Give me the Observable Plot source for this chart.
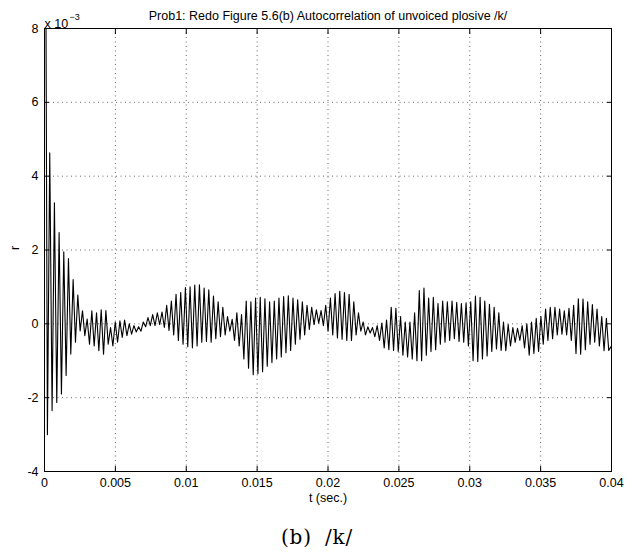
<!DOCTYPE html>
<html><head><meta charset="utf-8">
<script src="https://cdn.jsdelivr.net/npm/d3@7"></script>
<script src="https://cdn.jsdelivr.net/npm/@observablehq/plot@0.6"></script>
<style>
body{margin:0;background:#fff;}
svg{display:block;}
#cap{font-family:"DejaVu Serif","Liberation Serif",serif;font-size:20px;line-height:24px;text-align:center;width:634px;margin-top:5px;word-spacing:6px;letter-spacing:0.8px;}
</style></head><body><div id="chart"></div><div id="cap">(b) /k/</div>
<script>
const titleText = "Prob1: Redo Figure 5.6(b) Autocorrelation of unvoiced plosive /k/";
const xLabel = "t (sec.)";
const yLabel = "r";
const xTicks = [0, 0.005, 0.01, 0.015, 0.02, 0.025, 0.03, 0.035, 0.04];
const xTickLabels = ["0", "0.005", "0.01", "0.015", "0.02", "0.025", "0.03", "0.035", "0.04"];
const yTicks = [-4, -2, 0, 2, 4, 6, 8];
const yTickLabels = ["-4", "-2", "0", "2", "4", "6", "8"];

// autocorrelation (units of 1e-3); r(0) lies above the axis limit
const r0 = 20;
const firstTrough = 0.000205;   // s
const firstPeak = 0.00037;      // s
const cycle = 0.00033;          // s, oscillation period
const tEnd = 0.04;
const rEnd = -0.6;
const troughs = [
  -3.0, -2.35, -2.13, -1.9, -1.4, -0.82, -0.5, -0.19, -0.32, -0.55,
  -0.6, -0.73, -0.82, -0.55, -0.6, -0.5, -0.37, -0.32, -0.28, -0.22,
  -0.2, -0.08, -0.05, -0.05, -0.02, -0.1, -0.18, -0.3, -0.45, -0.55,
  -0.62, -0.65, -0.6, -0.5, -0.48, -0.5, -0.4, -0.35, -0.3, -0.2,
  -0.45, -0.6, -0.95, -1.2, -1.38, -1.35, -1.3, -1.15, -1.05, -0.95,
  -0.9, -0.78, -0.72, -0.55, -0.42, -0.3, -0.15, -0.02, 0.02, -0.05,
  -0.2, -0.3, -0.38, -0.42, -0.45, -0.45, -0.3, -0.2, -0.3, -0.25,
  -0.35, -0.45, -0.65, -0.7, -0.72, -0.75, -0.85, -0.9, -0.95, -1.0,
  -1.0, -0.85, -0.75, -0.7, -0.55, -0.5, -0.45, -0.4, -0.48, -0.5,
  -0.6, -1.0, -1.02, -0.95, -0.87, -0.75, -0.68, -0.72, -0.73, -0.6,
  -0.5, -0.45, -0.65, -0.85, -0.8, -0.75, -0.55, -0.45, -0.4, -0.3,
  -0.28, -0.3, -0.45, -0.8, -0.82, -0.7, -0.55, -0.5, -0.6, -0.73,
  -0.72
];
const peaks = [
  4.63, 3.28, 2.47, 1.95, 1.77, 1.2, 0.78, 0.35, 0.13, 0.35,
  0.3, 0.38, 0.36, -0.1, 0.05, 0.08, 0.1, 0.0, -0.05, -0.08,
  0.05, 0.17, 0.25, 0.3, 0.32, 0.5, 0.62, 0.8, 0.85, 0.98,
  1.0, 1.05, 1.06, 0.97, 0.92, 0.75, 0.6, 0.45, 0.2, 0.12,
  0.3, 0.25, 0.62, 0.6, 0.7, 0.72, 0.68, 0.6, 0.62, 0.7,
  0.74, 0.76, 0.7, 0.65, 0.6, 0.5, 0.45, 0.38, 0.36, 0.5,
  0.7, 0.82, 0.88, 0.85, 0.8, 0.6, 0.3, 0.05, -0.08, -0.1,
  -0.05, 0.02, 0.1, 0.45, 0.42, 0.2, 0.05, 0.05, 0.3, 0.9,
  0.97, 0.7, 0.72, 0.55, 0.62, 0.6, 0.62, 0.58, 0.55, 0.57,
  0.6, 0.75, 0.72, 0.62, 0.53, 0.45, 0.3, 0.05, -0.02, -0.1,
  -0.12, -0.05, 0.0, 0.05, 0.15, 0.2, 0.4, 0.45, 0.45, 0.4,
  0.35, 0.42, 0.5, 0.68, 0.67, 0.6, 0.52, 0.4, 0.2, 0.15
];

const pts = [{t: 0, r: r0}];
for (let c = 0; c < troughs.length; c++) {
  pts.push({t: firstTrough + c * cycle, r: troughs[c]});
  if (c < peaks.length) pts.push({t: firstPeak + c * cycle, r: peaks[c]});
}
pts.push({t: tEnd, r: rEnd});

const font = "'Liberation Sans', Arial, Helvetica, sans-serif";
const fs = 12.5;
const gridStyle = {stroke: "#000", strokeOpacity: 0.75, strokeDasharray: "1,3.5", strokeWidth: 0.8};

const chart = Plot.plot({
  width: 634, height: 520,
  marginLeft: 44, marginRight: 23, marginTop: 28, marginBottom: 49,
  x: {domain: [0, 0.04]},
  y: {domain: [-4, 8]},
  style: {fontFamily: font, fontSize: fs + "px", color: "#000", background: "#fff"},
  marks: [
    Plot.gridX(xTicks, gridStyle),
    Plot.gridY(yTicks, gridStyle),
    Plot.line(pts, {x: "t", y: "r", stroke: "#000", strokeWidth: 1.1, clip: true}),
    Plot.frame({stroke: "#000", strokeWidth: 1}),
    // inward ticks
    Plot.axisX(xTicks, {anchor: "bottom", tickSize: 5, dy: -5, tickFormat: () => "", label: null}),
    Plot.axisX(xTicks, {anchor: "top", tickSize: 5, dy: 5, tickFormat: () => "", label: null}),
    Plot.axisY(yTicks, {anchor: "left", tickSize: 5, dx: 5, tickFormat: () => "", label: null}),
    Plot.axisY(yTicks, {anchor: "right", tickSize: 5, dx: -5, tickFormat: () => "", label: null}),
    // labels
    Plot.axisX(xTicks, {anchor: "bottom", tickSize: 0, tickPadding: 7, tickFormat: d => xTickLabels[xTicks.indexOf(d)], label: null, fontSize: fs}),
    Plot.axisY(yTicks, {anchor: "left", tickSize: 0, tickPadding: 6, tickFormat: d => yTickLabels[yTicks.indexOf(d)], label: null, fontSize: fs}),
    Plot.text([titleText], {frameAnchor: "top", dy: -17, fontSize: fs}),
    Plot.text([xLabel], {frameAnchor: "bottom", dy: 30, fontSize: fs}),
    Plot.text([yLabel], {frameAnchor: "left", dx: -30, rotate: -90, fontSize: fs}),
    Plot.text(["x 10"], {frameAnchor: "top-left", dy: -9, dx: 0, textAnchor: "start", fontSize: fs}),
    Plot.text(["\u22123"], {frameAnchor: "top-left", dy: -15, dx: 25, textAnchor: "start", fontSize: 9})
  ]
});
document.getElementById("chart").appendChild(chart);
</script>
</body></html>
